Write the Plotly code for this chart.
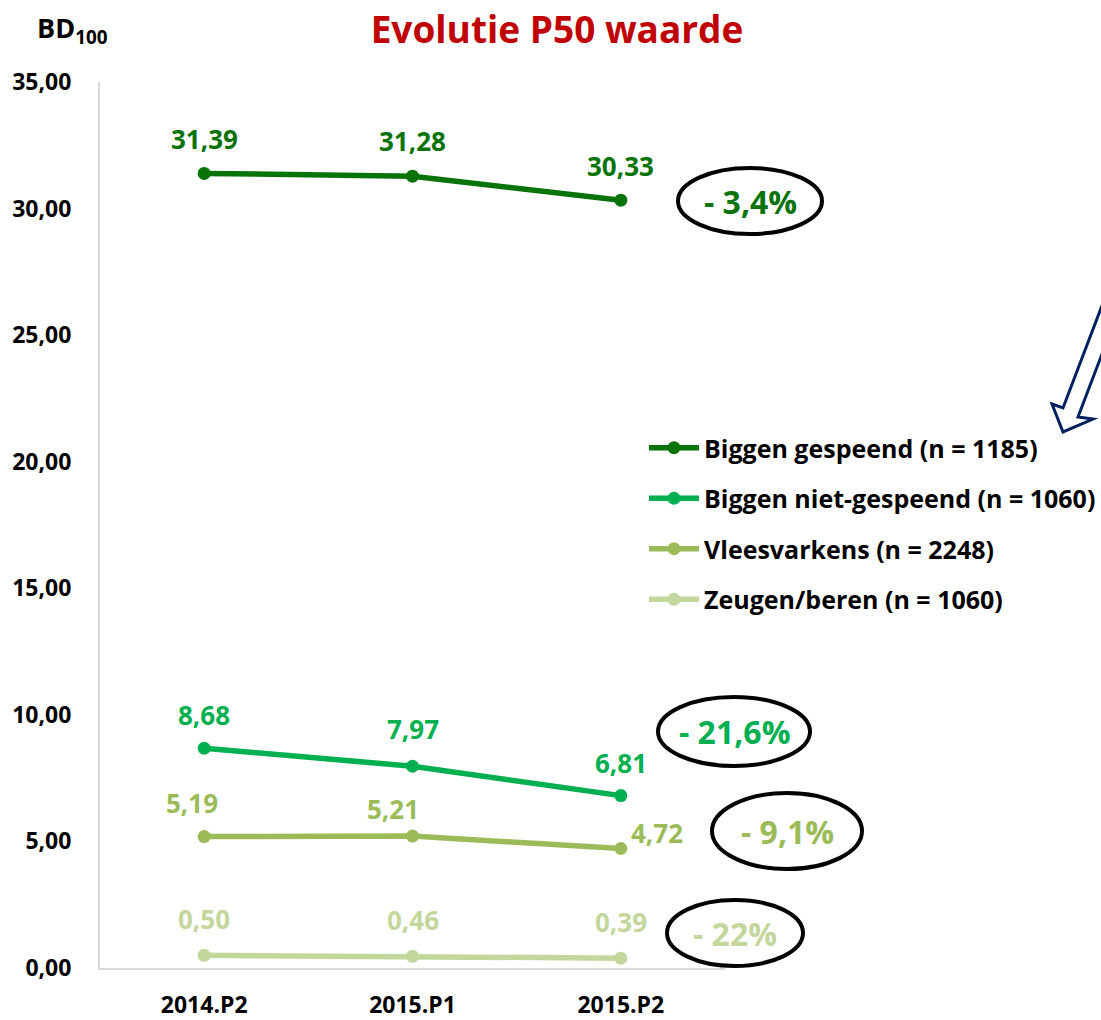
import plotly.graph_objects as go

# Data
periods = ['2014.P2', '2015.P1', '2015.P2']
series_names = ['Biggen gespeend (n = 1185)', 'Biggen niet-gespeend (n = 1060)',
                'Vleesvarkens (n = 2248)', 'Zeugen/beren (n = 1060)']
biggen_gespeend = [31.39, 31.28, 30.33]
biggen_niet_gespeend = [8.68, 7.97, 6.81]
vleesvarkens = [5.19, 5.21, 4.72]
zeugen_beren = [0.50, 0.46, 0.39]
changes = ['- 3,4%', '- 21,6%', '- 9,1%', '- 22%']

values = [biggen_gespeend, biggen_niet_gespeend, vleesvarkens, zeugen_beren]
colors = ['#087308', '#00B050', '#9BBB59', '#C3D69B']

W, H = 1101, 1020
L, R, T, B = 100, 725, 82, 968  # plot area in pixels


def px(x):
    return (x - L) / (R - L)


def py(y):
    return (B - y) / (B - T)


FONT = 'Open Sans'

fig = go.Figure()
for i, (name, vals, col) in enumerate(zip(series_names, values, colors)):
    fig.add_trace(go.Scatter(
        x=periods, y=vals, name=name, mode='lines+markers',
        line=dict(color=col, width=5.5), marker=dict(color=col, size=13),
        legendgroup=str(i),
    ))

# data labels (offsets in pixels)
label_shift = [
    [(0, 34), (0, 35), (0, 34)],
    [(0, 33), (0, 37), (0, 33)],
    [(-12, 34), (-20, 27), (36, 16)],
    [(0, 36), (0, 36), (0, 36)],
]
for vals, col, shifts in zip(values, colors, label_shift):
    for p, v, (dx, dy) in zip(periods, vals, shifts):
        fig.add_annotation(x=p, y=v, text=f'{v:.2f}'.replace('.', ','), showarrow=False,
                           xshift=dx, yshift=dy, xanchor='center', yanchor='middle',
                           font=dict(family=FONT, size=26, color=col, weight='bold'))

# ellipses with the change percentages (pixel boxes)
ellipses = [(678, 168, 822, 234), (658, 697, 810, 766), (712, 793, 862, 869), (667, 900, 803, 966)]
for (x0, y0, x1, y1), txt, col in zip(ellipses, changes, colors):
    fig.add_shape(type='circle', xref='paper', yref='paper',
                  x0=px(x0), x1=px(x1), y0=py(y1), y1=py(y0),
                  line=dict(color='black', width=4))
    fig.add_annotation(xref='paper', yref='paper', x=px((x0 + x1) / 2), y=py((y0 + y1) / 2),
                       text=txt, showarrow=False, xanchor='center', yanchor='middle',
                       font=dict(family=FONT, size=32, color=col, weight='bold'))

# hollow arrow at upper right
arrow_pts = [(1052, 404), (1063, 408), (1119, 261), (1134, 270), (1078, 417), (1093, 419), (1063, 432)]
path = 'M ' + ' L '.join(f'{px(x):.4f},{py(y):.4f}' for x, y in arrow_pts) + ' Z'
fig.add_shape(type='path', xref='paper', yref='paper', path=path,
              line=dict(color='#002060', width=3), fillcolor='white')

# axis unit label
fig.add_annotation(xref='paper', yref='paper', x=px(72), y=py(30), text='BD<sub>100</sub>',
                   showarrow=False, xanchor='center', yanchor='middle',
                   font=dict(family=FONT, size=27, color='black', weight='bold'))

fig.update_layout(
    width=W, height=H,
    margin=dict(l=L, r=W - R, t=T, b=H - B, pad=0, autoexpand=False),
    paper_bgcolor='white', plot_bgcolor='white',
    separators=',.',
    title=dict(text='Evolutie P50 waarde', x=557 / W, xanchor='center', y=1 - 30 / H, yanchor='middle',
               font=dict(family=FONT, size=37, color='#C00000', weight='bold')),
    showlegend=True,
    legend=dict(x=px(644), y=py(425), xanchor='left', yanchor='top',
                font=dict(family=FONT, size=25, color='black', weight='bold'),
                tracegroupgap=15, itemwidth=50, bgcolor='rgba(0,0,0,0)'),
    xaxis=dict(range=[-0.5, 2.5], showgrid=False, showline=True, linecolor='#D9D9D9', linewidth=2,
               ticks='', ticklabelstandoff=15, automargin=False,
               tickfont=dict(family=FONT, size=23, color='black', weight='bold')),
    yaxis=dict(range=[0, 35], dtick=5, tickformat='.2f', showgrid=False, zeroline=False,
               showline=True, linecolor='#D9D9D9', linewidth=2, ticks='', ticklabelstandoff=22,
               automargin=False,
               tickfont=dict(family=FONT, size=23, color='black', weight='bold')),
)

fig.write_html('out.html', config={'displayModeBar': False},
               post_script="document.body.style.margin='0';")
